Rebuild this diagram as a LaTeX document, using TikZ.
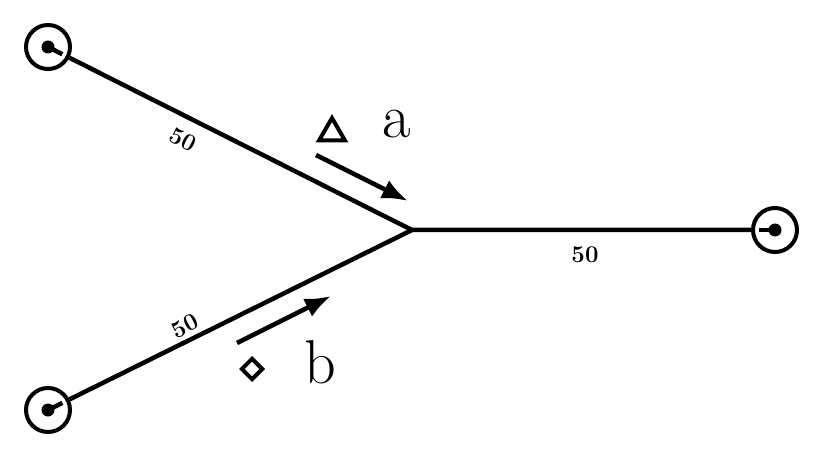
\documentclass[tikz,border=0pt]{standalone}
\usepackage{fontspec}
\usetikzlibrary{arrows.meta,shapes.geometric,calc}
\begin{document}
\begin{tikzpicture}[x=1pt,y=-1pt,
  ln/.style={line width=4.5pt},
  term/.style={circle,draw,line width=4pt,minimum size=44pt,inner sep=0pt},
  num/.style={font=\fontsize{24}{24}\selectfont\bfseries},
  big/.style={font=\fontsize{62}{62}\selectfont},
  arr/.style={line width=4.5pt,-{Latex[length=26pt,width=20pt]}}]
\useasboundingbox (0,0) rectangle (830,457);
\node[term] (t1) at (48,47) {};
\node[term] (t2) at (48,410) {};
\node[term] (t3) at (775,230) {};
\coordinate (j) at (412,230);
\draw[ln] (t1) -- (j) -- (t3);
\draw[ln] (t2) -- (j);
\foreach \t/\d in {t1/j,t2/j,t3/j}{
  \fill (\t.center) circle (6.5pt);
  \draw[line width=4.5pt] (\t.center) -- ($(\t.center)!16pt!(\d)$);
}
\node[num,rotate=-27] (n1) at (183,140) {50};
\node[num,rotate=27] (n2) at (185,326) {50};
\node[num] (n3) at (585,255) {50};
\coordinate (a1) at (316,155); \coordinate (a2) at (408,201);
\draw[arr] (a1) -- (a2);
\coordinate (b1) at (237,343); \coordinate (b2) at (331,296);
\draw[arr] (b1) -- (b2);
\node[regular polygon,regular polygon sides=3,draw,line width=4pt,minimum size=30pt,inner sep=0pt] (tri) at (332,133) {};
\node[diamond,draw,line width=4pt,minimum size=22pt,inner sep=0pt] (dia) at (252,369) {};
\node[big] (la) at (397,124) {a};
\node[big] (lb) at (320,362) {b};
\end{tikzpicture}
\end{document}
